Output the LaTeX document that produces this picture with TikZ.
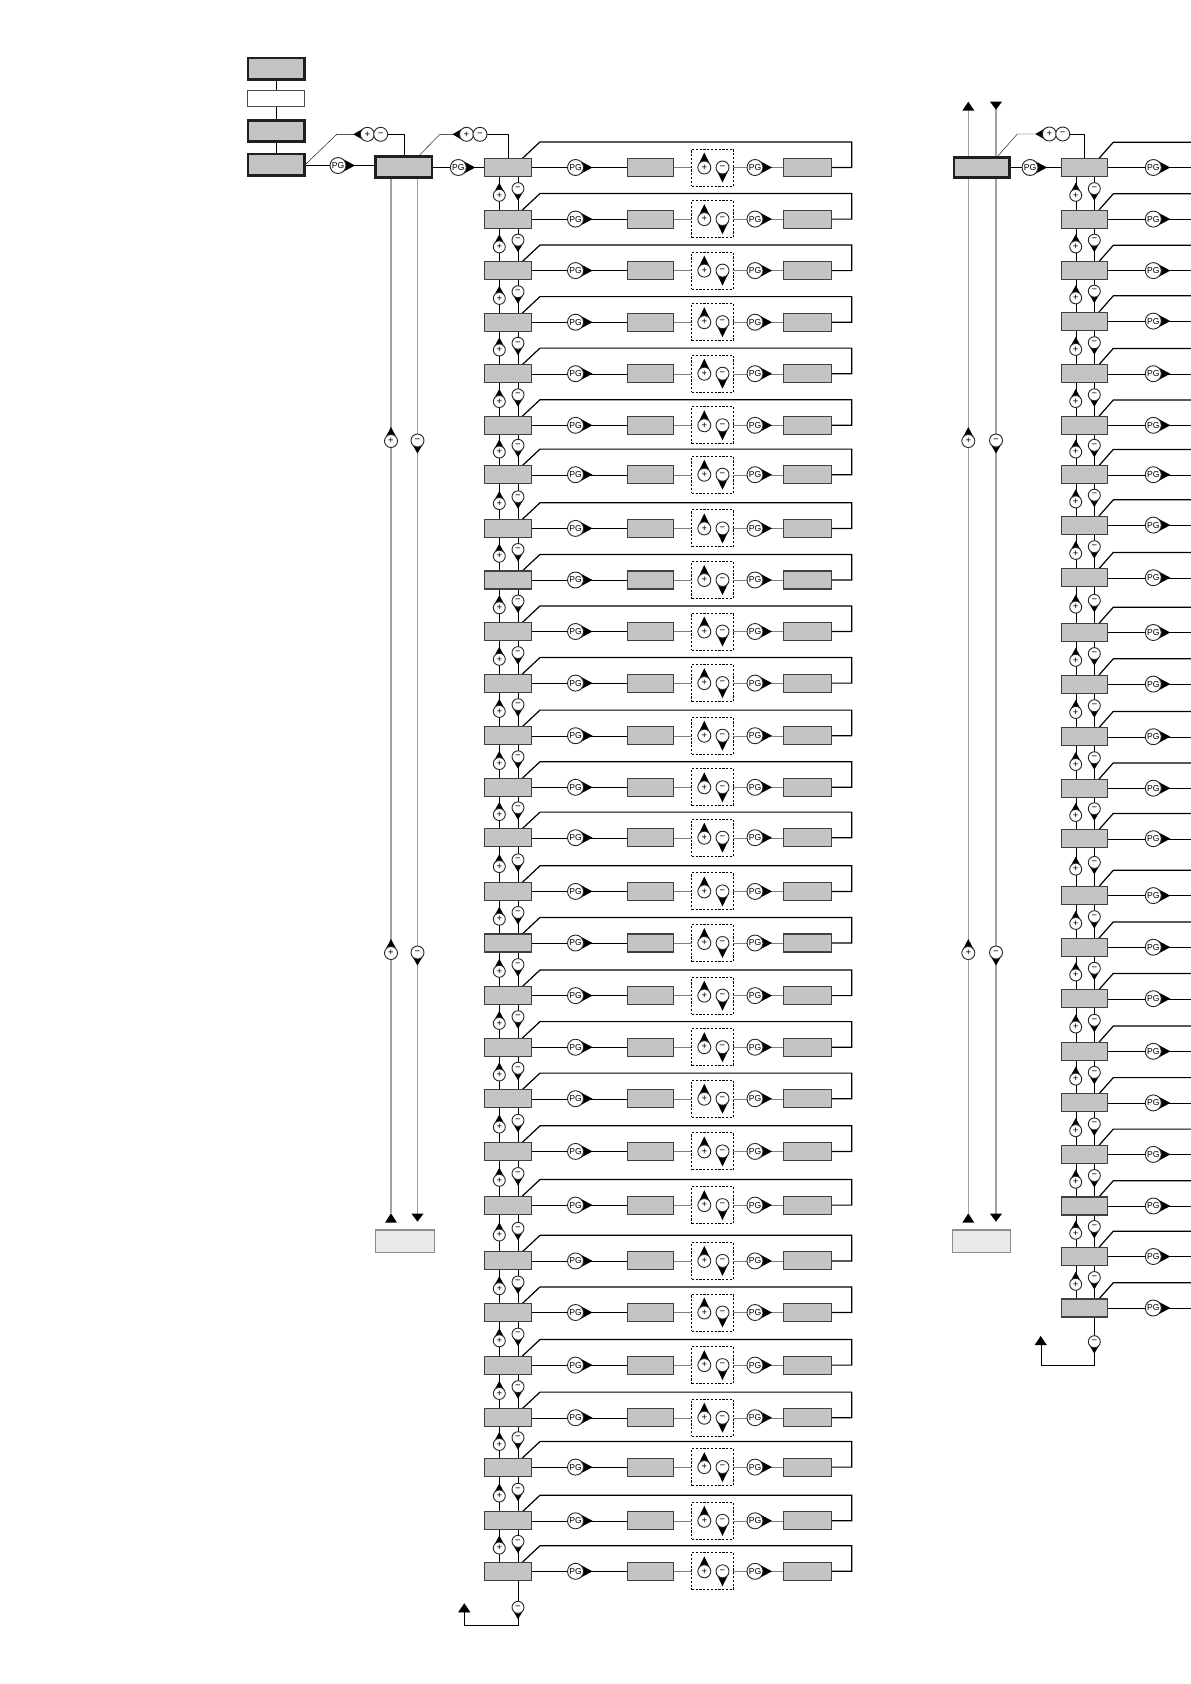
\documentclass[tikz,border=0pt]{standalone}
\usepackage{fontspec}
\setmainfont{Liberation Sans}
\usetikzlibrary{arrows.meta}
\pgfdeclarelayer{bg}
\pgfsetlayers{bg,main}
\definecolor{boxg}{HTML}{C4C4C4}
\definecolor{lightg}{HTML}{E9E9E9}
\definecolor{lineg}{HTML}{808080}
\definecolor{vg}{HTML}{A0A0A0}
\tikzset{
  bx/.style={draw=black!75, fill=boxg, line width=1.1pt, minimum width=46.8pt, minimum height=18pt, inner sep=0pt, outer sep=0pt},
  tbx/.style={draw=black!88, fill=boxg, line width=2.6pt, minimum width=56.4pt, minimum height=21.4pt, inner sep=0pt, outer sep=0pt},
  wbx/.style={draw=black!70, fill=white, line width=1pt, minimum width=57pt, minimum height=16.3pt, inner sep=0pt, outer sep=0pt},
  lbx/.style={draw=black!45, fill=lightg, line width=1.3pt, minimum width=58.7pt, minimum height=22.7pt, inner sep=0pt, outer sep=0pt},
  dbox/.style={draw=black, dash pattern=on 2.2pt off 1.6pt, line width=1pt, minimum width=41.6pt, minimum height=37pt, inner sep=0pt, outer sep=0pt},
  symc/.style={circle, draw=black!85, fill=white, line width=0.9pt, inner sep=0pt, outer sep=0pt, font=\fontsize{9.5}{9.5}\selectfont},
  pgfont/.style={font=\fontsize{8.6}{8.6}\selectfont},
  fbc/.style={draw=black, line width=1.2pt},
  vline/.style={draw=vg, line width=1.3pt}
}
% #1 name, #2 x, #3 y, #4 radius, #5 tip distance (0 = none), #6 direction, #7 text
\newcommand\sym[7]{%
  \ifdim #5pt>0pt
    \pgfmathsetmacro\tbx{#4*#4/#5}%
    \pgfmathsetmacro\tby{#4*sqrt(1-(#4/#5)^2)}%
    \fill[black, shift={(#2,#3)}, rotate=#6] (#5,0) -- (\tbx,\tby) -- (\tbx,-\tby) -- cycle;
  \fi
  \pgfmathsetmacro\tdd{2*#4}%
  \node[symc, minimum size=\tdd pt] (#1) at (#2,#3) {#7};
}
% PG symbol
\newcommand\pgs[3]{%
  \fill[black, shift={(#2,#3)}] (17,0) -- (3.76,7.06) -- (3.76,-7.06) -- cycle;
  \node[symc, pgfont, minimum size=16pt] (#1) at (#2,#3) {PG};
}
\def\LY{{167.5,219.1,270.6,322.2,373.7,425.3,474.7,528.4,580,631.5,683.1,735.7,787.3,837.7,891.4,943,995.6,1047.2,1098.7,1151.4,1205.1,1260.9,1312.5,1365.1,1417.7,1467.1,1520.8,1571.3}}
\def\RY{{167.5,219.1,270.6,321.1,373.7,425.3,474.7,525.1,577.7,632.5,684.1,736.7,788.2,838.7,895.6,947.2,998.7,1051.3,1102.9,1154.4,1206,1256.5,1308}}
\begin{document}
\begin{tikzpicture}[x=1pt, y=-1pt, line width=1.1pt]
\useasboundingbox (0,0) rectangle (1191,1684);
\begin{pgfonlayer}{bg}
  \fill[white] (0,0) rectangle (1191,1684);
\end{pgfonlayer}

% ---------- top-left stack ----------
\node[tbx, minimum height=21.7pt] (b1) at (276.2,68.9) {};
\node[wbx] (b2) at (276.2,98.7) {};
\node[tbx, minimum height=21.1pt] (b3) at (276.2,130.9) {};
\node[tbx] (b4) at (276.2,164.7) {};
\node[tbx, minimum height=21.1pt] (b5) at (403.8,166.9) {};
\pgs{PG0}{338}{165.5}
\pgs{PG5}{458.3}{167.5}
\sym{FP0}{367.3}{134.3}{7}{14}{180}{+}
\sym{FM0}{380.7}{134.3}{7}{0}{0}{−}
\sym{FP5}{466.5}{134.3}{7}{14}{180}{+}
\sym{FM5}{480}{134.3}{7}{0}{0}{−}
\coordinate (fb0a) at (336.7,134.3);
\coordinate (fb0b) at (404,134.3);
\coordinate (fb5a) at (440,134.3);
\coordinate (fb5b) at (508.3,134.3);

% left grey verticals
\sym{LP1}{391}{441}{6.5}{14}{90}{+}
\sym{LM1}{417.5}{440.5}{6.5}{13}{-90}{−}
\sym{LP2}{391}{953}{6.5}{14}{90}{+}
\sym{LM2}{417.5}{952.5}{6.5}{13}{-90}{−}
\coordinate (vlb) at (391,1213.3);
\coordinate (vrb) at (417.5,1221.7);
\node[lbx] (bl) at (405,1241.3) {};
\fill (vlb) -- ++(-6,9.4) -- ++(12,0) -- cycle;
\fill (vrb) -- ++(-6,-8) -- ++(12,0) -- cycle;

\begin{pgfonlayer}{bg}
  \draw (b1) -- (b2) -- (b3) -- (b4);
  \draw (PG0 -| b4.east) -- (PG0) -- (PG0 -| b5.west);
  \draw (PG5 -| b5.east) -- (PG5);
  \draw (PG0 -| b4.east) -- (fb0a) -- (FP0);
  \draw (FM0) -- (fb0b) -- (fb0b |- b5.north);
  \draw ([xshift=14.5pt]b5.north) -- (fb5a) -- (FP5);
  \draw[vline] (b5.south -| vlb) -- (vlb);
  \draw[vline] (b5.south -| vrb) -- ([yshift=8pt]vrb);
\end{pgfonlayer}

% ---------- left column rows ----------
\foreach \i in {1,...,28} {
  \pgfmathsetmacro\y{\LY[\i-1]}
  \node[bx] (A\i) at (507.85,\y) {};
  \pgs{P\i}{575.5}{\y}
  \node[bx] (B\i) at (650.5,\y) {};
  \node[dbox] (D\i) at (712.5,\y) {};
  \sym{Dp\i}{704.3}{\y}{6.5}{15}{90}{+}
  \sym{Dm\i}{722.5}{\y}{6.5}{15}{-90}{−}
  \pgs{Q\i}{755}{\y}
  \node[bx, minimum width=47.3pt] (C\i) at (807.5,\y) {};
  \coordinate (Fr\i) at (851.7,\y-25.6);
  \coordinate (Fl\i) at (540,\y-25.6);
  \begin{pgfonlayer}{bg}
    \draw (A\i.east) -- (P\i) -- (B\i.west);
    \draw[lineg] (B\i.east) -- (D\i.west) (D\i.east) -- (Q\i) -- (C\i.west);
    \draw[fbc] (C\i.east) -| (Fr\i) -- (Fl\i) -- ([xshift=-9pt]A\i.north east);
  \end{pgfonlayer}
}
\begin{pgfonlayer}{bg}
  \draw (PG5) -- (PG5 -| A1.west);
  \draw (FM5) -- (fb5b) -- (fb5b |- A1.north);
\end{pgfonlayer}
\foreach \i in {1,...,27} {
  \pgfmathtruncatemacro\j{\i+1}
  \pgfmathsetmacro\ya{\LY[\i-1]}
  \pgfmathsetmacro\yb{\LY[\i]}
  \pgfmathsetmacro\ym{(\ya+\yb)/2}
  \sym{U\i}{499.3}{\ym+2}{6}{12.5}{90}{+}
  \sym{V\i}{518}{\ym-4.7}{6}{12}{-90}{−}
  \begin{pgfonlayer}{bg}
    \draw (A\i.south -| U\i) -- (U\i) -- (A\j.north -| U\i);
    \draw (A\i.south -| V\i) -- (V\i) -- (A\j.north -| V\i);
  \end{pgfonlayer}
}
\sym{Vend}{518}{1607.3}{6}{12}{-90}{−}
\coordinate (LE1) at (518,1625);
\coordinate (LE2) at (464.3,1625);
\coordinate (LEt) at (464.3,1603.3);
\begin{pgfonlayer}{bg}
  \draw[-{Triangle[length=9pt,width=12pt]}] (A28.south -| Vend) -- (Vend) -- (LE1) -- (LE2) -- (LEt);
\end{pgfonlayer}

% ---------- right section ----------
\node[tbx, minimum width=55.7pt, minimum height=20.4pt] (big) at (981.9,167.5) {};
\pgs{PGR}{1030}{167.5}
\sym{FPR}{1049.3}{134}{7}{14}{180}{+}
\sym{FMR}{1062.7}{134}{7}{0}{0}{−}
\coordinate (fbRa) at (1017.3,134);
\coordinate (fbRb) at (1084.5,134);
\sym{RP1}{968.3}{441}{6.5}{14}{90}{+}
\sym{RM1}{996}{440.5}{6.5}{13}{-90}{−}
\sym{RP2}{968.3}{953}{6.5}{14}{90}{+}
\sym{RM2}{996}{952.5}{6.5}{13}{-90}{−}
\node[lbx, minimum width=58pt] (br) at (981.6,1241.3) {};
\coordinate (RVLt) at (968.3,101.7);
\coordinate (RVLb) at (968.3,1213.3);
\coordinate (RVRt) at (996,101.7);
\coordinate (RVRb) at (996,1221.7);
\fill (RVLt) -- ++(-6,9) -- ++(12,0) -- cycle;
\fill (RVLb) -- ++(-6,9.4) -- ++(12,0) -- cycle;
\fill (RVRt) -- ++(6,0) -- ++(-6,8) -- ++(-6,-8) -- cycle;
\fill (RVRb) -- ++(-6,-8) -- ++(12,0) -- cycle;
\begin{pgfonlayer}{bg}
  \draw[vline] (RVLt) -- (RVLb);
  \draw[vline] (RVRt) -- ([yshift=8pt]RVRb);
  \draw (big.east |- PGR) -- (PGR);
  \draw ([xshift=14.8pt]big.north) -- (fbRa) -- (FPR);
\end{pgfonlayer}

\foreach \i in {1,...,23} {
  \pgfmathsetmacro\y{\RY[\i-1]}
  \node[bx] (R\i) at (1084.5,\y) {};
  \pgs{S\i}{1153.3}{\y}
  \coordinate (Re\i) at (1191,\y);
  \coordinate (Rt\i) at (1191,\y-25.3);
  \coordinate (Rl\i) at (1113.3,\y-25.3);
  \begin{pgfonlayer}{bg}
    \draw (R\i.east) -- (S\i) -- (Re\i);
    \draw[fbc] (Rt\i) -- (Rl\i) -- ([xshift=-9pt]R\i.north east);
  \end{pgfonlayer}
}
\begin{pgfonlayer}{bg}
  \draw (PGR) -- (PGR -| R1.west);
  \draw (FMR) -- (fbRb) -- (fbRb |- R1.north);
\end{pgfonlayer}
\foreach \i in {1,...,22} {
  \pgfmathtruncatemacro\j{\i+1}
  \pgfmathsetmacro\ya{\RY[\i-1]}
  \pgfmathsetmacro\yb{\RY[\i]}
  \pgfmathsetmacro\ym{(\ya+\yb)/2}
  \sym{W\i}{1075.7}{\ym+2}{6}{12.5}{90}{+}
  \sym{X\i}{1094.3}{\ym-4.7}{6}{12}{-90}{−}
  \begin{pgfonlayer}{bg}
    \draw (R\i.south -| W\i) -- (W\i) -- (R\j.north -| W\i);
    \draw (R\i.south -| X\i) -- (X\i) -- (R\j.north -| X\i);
  \end{pgfonlayer}
}
\sym{Xend}{1094.3}{1341.7}{6}{12}{-90}{−}
\coordinate (RE1) at (1094.3,1365);
\coordinate (RE2) at (1040.7,1365);
\coordinate (REt) at (1040.7,1336);
\begin{pgfonlayer}{bg}
  \draw[-{Triangle[length=9pt,width=12pt]}] (R23.south -| Xend) -- (Xend) -- (RE1) -- (RE2) -- (REt);
\end{pgfonlayer}
\end{tikzpicture}
\end{document}
